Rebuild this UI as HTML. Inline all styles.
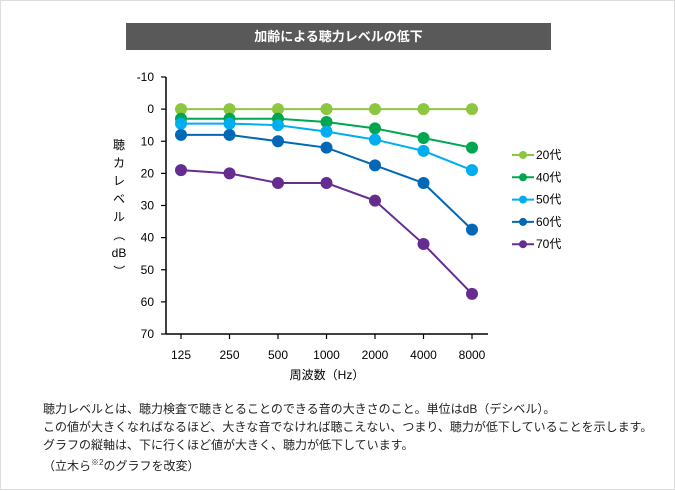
<!DOCTYPE html>
<html><head><meta charset="utf-8"><style>
body{margin:0;background:#fff;font-family:"Liberation Sans","Noto Sans CJK JP",sans-serif}
#wrap{position:relative;width:673px;height:488px;border:1px solid #ddd;background:#fff}
#title{position:absolute;left:125px;top:22px;width:425px;height:27px;background:#595959;color:#fff;font-size:13px;font-weight:bold;text-align:center;line-height:27px}
#note{position:absolute;left:42px;top:399px;font-size:12px;line-height:18px;color:#222}
svg{position:absolute;left:0;top:0}
</style></head><body>
<div id="wrap">
<div id="title">加齢による聴力レベルの低下</div>
<svg id="chart" width="675" height="490"></svg>
<div id="note">聴力レベルとは、聴力検査で聴きとることのできる音の大きさのこと。単位はdB（デシベル）。<br>この値が大きくなればなるほど、大きな音でなければ聴こえない、つまり、聴力が低下していることを示します。<br>グラフの縦軸は、下に行くほど値が大きく、聴力が低下しています。<br>（立木ら<sup style="font-size:8px">※2</sup>のグラフを改変）</div>
</div>
<script>
const categories=["125","250","500","1000","2000","4000","8000"];
const yTicks=[-10,0,10,20,30,40,50,60,70];
const seriesNames=["20代","40代","50代","60代","70代"];
const seriesColors=["#8dc63f","#00a650","#00aeef","#0068b7","#662d91"];
const s20=[0,0,0,0,0,0,0];
const s40=[3,3,3,4,6,9,12];
const s50=[4.5,4.5,5,7,9.5,13,19];
const s60=[8,8,10,12,17.5,23,37.5];
const s70=[19,20,23,23,28.5,42,57.5];
const allSeries=[s20,s40,s50,s60,s70];
const NS="http://www.w3.org/2000/svg";
const svg=document.getElementById('chart');
const x=i=>180+i*48.5;
const y=v=>76+(v+10)*(333-76)/80;
function mk(t,a,p){const e=document.createElementNS(NS,t);for(const k in a)e.setAttribute(k,a[k]);(p||svg).appendChild(e);return e;}
let e;
e=mk('line',{x1:165,y1:76,x2:165,y2:333,stroke:'#000','stroke-width':1.5});


e=mk('line',{x1:165,y1:333,x2:487,y2:333,stroke:'#000','stroke-width':1.5});


yTicks.forEach(v=>{
 mk('line',{x1:160,y1:y(v),x2:165,y2:y(v),stroke:'#000','stroke-width':1.2});
 e=mk('text',{x:153,y:y(v)+4,'text-anchor':'end','font-size':12,fill:'#000'});e.textContent=v;
 
 
});
categories.forEach((c,i)=>{
 mk('line',{x1:x(i),y1:333,x2:x(i),y2:338,stroke:'#000','stroke-width':1.2});
 e=mk('text',{x:x(i),y:358,'text-anchor':'middle','font-size':12,fill:'#000'});e.textContent=c;
 
 
});
e=mk('text',{x:326,y:378,'text-anchor':'middle','font-size':12,fill:'#000'});e.textContent="周波数（Hz）";


const yl=["聴","カ","レ","ベ","ル","（","dB","）"];
const g=mk('g',{});


yl.forEach((ch,i)=>{const t=mk('text',{x:118,y:148+i*18,'text-anchor':'middle','font-size':12,fill:'#000'},g);t.textContent=ch;
 if(ch==="（"||ch==="）")t.setAttribute('transform','rotate(90 118 '+(144+i*18)+')');});
allSeries.forEach((s,k)=>{
 const col=seriesColors[k];
 e=mk('polyline',{points:s.map((v,i)=>x(i)+','+y(v)).join(' '),fill:'none',stroke:col,'stroke-width':2});
 
 
 s.forEach((v,i)=>{e=mk('circle',{cx:x(i),cy:y(v),r:6,fill:col});
  
  });
 const ly=154+k*22.3;
 e=mk('g',{});
 
 
 mk('line',{x1:511,y1:ly,x2:533,y2:ly,stroke:col,'stroke-width':2},e);
 mk('circle',{cx:522,cy:ly,r:4,fill:col},e);
 const t=mk('text',{x:535,y:ly+4,'font-size':12,fill:'#000'},e);t.textContent=seriesNames[k];
});
</script>
</body></html>
